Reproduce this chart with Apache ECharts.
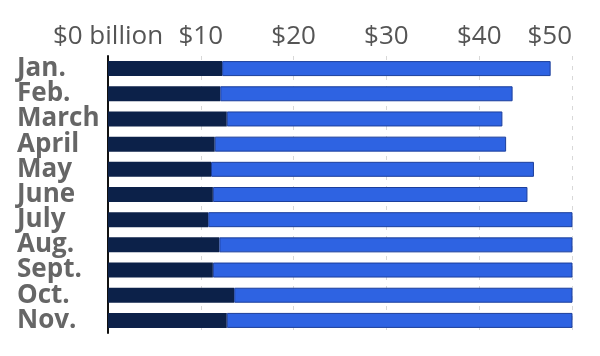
<!DOCTYPE html>
<html>
<head>
<meta charset="utf-8">
<script src="https://cdn.jsdelivr.net/npm/echarts@6/dist/echarts.min.js"></script>
<style>html,body{margin:0;padding:0;background:#fff}#c{width:600px;height:356px}</style>
</head>
<body>
<div id="c"></div>
<script>
const categories = ['Jan.', 'Feb.', 'March', 'April', 'May', 'June', 'July', 'Aug.', 'Sept.', 'Oct.', 'Nov.'];
const darkValues = [12.3, 12.1, 12.8, 11.5, 11.1, 11.3, 10.8, 12.0, 11.3, 13.6, 12.8];
const totalValues = [47.7, 43.6, 42.5, 42.9, 45.9, 45.2, 55, 55, 55, 55, 55];
const blueValues = totalValues.map((t, i) => +(t - darkValues[i]).toFixed(1));
const tickLabels = ['$0 billion', '$10', '$20', '$30', '$40', '$50'];

const chart = echarts.init(document.getElementById('c'));
chart.setOption({
  animation: false,
  grid: { left: 108, right: 28, top: 56, bottom: 23, containLabel: false },
  xAxis: {
    type: 'value', position: 'top', min: 0, max: 50, interval: 10,
    axisLine: { show: false }, axisTick: { show: false },
    splitLine: { show: true, lineStyle: { color: '#d8d8d8', type: [4, 6], width: 1 } },
    axisLabel: {
      margin: 6, fontSize: 26, color: '#555', fontFamily: 'Open Sans',
      alignMaxLabel: 'right',
      formatter: v => tickLabels[Math.round(v / 10)]
    }
  },
  yAxis: {
    type: 'category', data: categories, inverse: true,
    axisLine: { show: true, lineStyle: { color: '#111', width: 2 } },
    axisTick: { show: false },
    axisLabel: {
      interval: 0, hideOverlap: false,
      fontSize: 26, fontWeight: 'bold', color: '#666', fontFamily: 'Open Sans',
      align: 'left', margin: 91, lineHeight: 25
    }
  },
  series: [
    { type: 'bar', stack: 't', data: darkValues, barWidth: 15,
      itemStyle: { color: '#0c2149' } },
    { type: 'bar', stack: 't', data: blueValues, barWidth: 15, clip: true,
      itemStyle: { color: '#2e63e2', borderColor: '#1c3f9c', borderWidth: 1 } }
  ]
});
</script>
</body>
</html>
